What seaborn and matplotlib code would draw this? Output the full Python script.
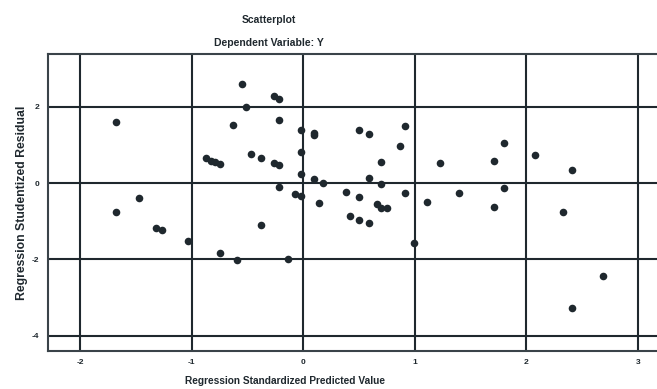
import seaborn as sns
import pandas as pd
import numpy as np
import matplotlib.pyplot as plt

# standardized predicted value (x) and studentized residual (y)
pred = [-1.68, -1.68, -1.47, -1.32, -1.27, -1.03, -0.87, -0.83, -0.79, -0.75,
        -0.75, -0.59, -0.55, -0.51, -0.63, -0.47, -0.38, -0.38, -0.26, -0.22,
        -0.22, -0.26, -0.22, -0.22, -0.14, -0.07, -0.02, -0.02, -0.02, -0.02,
        0.10, 0.10, 0.10, 0.18, 0.14, 0.50, 0.59, 0.91, 0.87, 0.70,
        0.59, 0.70, 0.38, 0.50, 0.91, 0.66, 0.70, 0.75, 0.42, 0.50,
        0.59, 0.99, 1.11, 1.23, 1.40, 1.71, 1.80, 1.80, 1.71, 2.08,
        2.41, 2.33, 2.69, 2.41]
resid = [1.61, -0.75, -0.40, -1.17, -1.23, -1.53, 0.65, 0.59, 0.54, 0.50,
         -1.83, -2.02, 2.60, 1.99, 1.53, 0.77, 0.65, -1.09, 2.28, 2.21,
         1.64, 0.52, 0.47, -0.10, -1.98, -0.30, -0.35, 1.40, 0.82, 0.23,
         1.31, 1.26, 0.10, 0.00, -0.53, 1.38, 1.29, 1.49, 0.96, 0.56,
         0.12, -0.03, -0.23, -0.37, -0.26, -0.56, -0.65, -0.65, -0.86, -0.96,
         -1.05, -1.56, -0.50, 0.53, -0.25, 0.57, 1.05, -0.13, -0.64, 0.73,
         0.34, -0.77, -2.44, -3.27]
xticks = [-2, -1, 0, 1, 2, 3]
yticks = [-4, -2, 0, 2]

df = pd.DataFrame({"pred": pred, "resid": resid})

sns.set_style("white")
plt.rcParams['font.family'] = ['Liberation Sans', 'DejaVu Sans']

fig = plt.figure(figsize=(6.57, 3.89), dpi=100)
ax = fig.add_axes([0.073, 0.098, 0.94, 0.763])

ink = "#1f282e"
sns.scatterplot(data=df, x="pred", y="resid", color=ink, s=30, edgecolor=ink,
                linewidth=0, ax=ax, zorder=3)

ax.set_xlim(-2.29, 3.25)
ax.set_ylim(-4.4, 3.38)
ax.set_xticks(xticks)
ax.set_yticks(yticks)
ax.set_xticklabels([str(t) for t in xticks], fontsize=6, fontweight="bold", color=ink)
ax.set_yticklabels([str(t) for t in yticks], fontsize=6, fontweight="bold", color=ink)
ax.tick_params(length=0, pad=6)
ax.grid(True, color=ink, linewidth=1.5)
for side in ["left", "bottom", "top"]:
    ax.spines[side].set_color("#3a4349")
    ax.spines[side].set_linewidth(1.5)
ax.spines["right"].set_visible(False)

ax.set_xlabel("Regression Standardized Predicted Value", fontsize=7.3,
              fontweight="bold", color=ink)
ax.xaxis.label.set_va("center")
ax.xaxis.set_label_coords((285 - 48) / (0.94 * 657), -30 / 297)
ax.set_ylabel("Regression Studentized Residual", fontsize=8.8,
              fontweight="bold", color=ink)
ax.yaxis.set_label_coords(-0.032, 0.5)

fig.text(269 / 657, 0.948, "Scatterplot", ha="center", va="center",
         fontsize=7.5, fontweight="bold", color=ink)
fig.text(269 / 657, 0.889, "Dependent Variable: Y", ha="center", va="center",
         fontsize=7.5, fontweight="bold", color=ink)

fig.savefig("out.png", dpi=100)
